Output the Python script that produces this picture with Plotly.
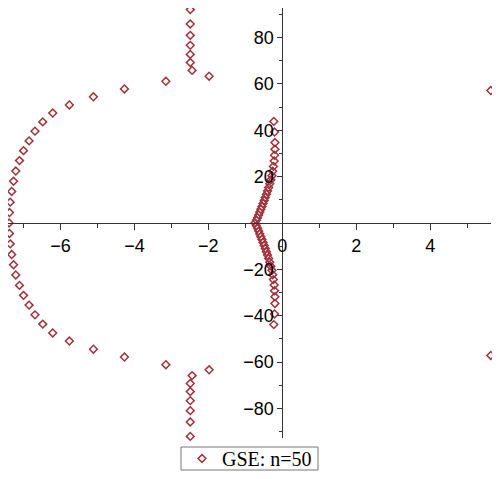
import plotly.graph_objects as go

# Left branch (upper half, then real point, then lower half)
re_left = [-2.49, -2.49, -2.49, -2.49, -2.49, -2.49, -2.44, -1.98, -3.15, -4.27, -5.11, -5.76,
           -6.21, -6.48, -6.69, -6.85, -7.00, -7.11, -7.21, -7.27, -7.32, -7.36, -7.38,
           -7.39,
           -7.38, -7.36, -7.32, -7.27, -7.21, -7.11, -7.00, -6.85, -6.69, -6.48, -6.21,
           -5.76, -5.11, -4.27, -3.15, -1.98, -2.44, -2.49, -2.49, -2.49, -2.49, -2.49, -2.49]
im_left = [92.0, 85.8, 80.9, 76.6, 72.7, 69.2, 65.8, 63.3, 61.1, 57.8, 54.4, 50.9,
           47.4, 43.6, 39.6, 35.4, 31.2, 26.9, 22.4, 18.0, 13.6, 9.0, 4.5,
           0.0,
           -4.5, -9.0, -13.6, -18.0, -22.4, -26.9, -31.2, -35.4, -39.6, -43.6, -47.4,
           -50.9, -54.4, -57.8, -61.1, -63.3, -65.8, -69.2, -72.7, -76.6, -80.9, -85.8, -92.0]

# Cluster near the origin
re_mid = [-0.23, -0.21, -0.20, -0.20, -0.21, -0.22, -0.24, -0.26, -0.28, -0.31, -0.34, -0.37,
          -0.40, -0.43, -0.46, -0.49, -0.52, -0.55, -0.58, -0.61, -0.64, -0.67, -0.70,
          -0.74,
          -0.70, -0.67, -0.64, -0.61, -0.58, -0.55, -0.52, -0.49, -0.46, -0.43, -0.40,
          -0.37, -0.34, -0.31, -0.28, -0.26, -0.24, -0.22, -0.21, -0.20, -0.20, -0.21, -0.23]
im_mid = [43.8, 39.2, 34.7, 31.8, 29.2, 26.7, 24.4, 22.3, 20.4, 18.6, 16.9, 15.3,
          13.8, 12.4, 11.0, 9.7, 8.4, 7.1, 5.9, 4.7, 3.5, 2.3, 1.2,
          0.0,
          -1.2, -2.3, -3.5, -4.7, -5.9, -7.1, -8.4, -9.7, -11.0, -12.4, -13.8,
          -15.3, -16.9, -18.6, -20.4, -22.3, -24.4, -26.7, -29.2, -31.8, -34.7, -39.2, -43.8]

# Right pair
re_right = [5.64, 5.64]
im_right = [57.1, -57.1]

x_ticks = [-6, -4, -2, 0, 2, 4]
x_labels = ["\u22126", "\u22124", "\u22122", "0", "2", "4"]
y_ticks = [-80, -60, -40, -20, 20, 40, 60, 80]
y_labels = ["\u221280", "\u221260", "\u221240", "\u221220", "20", "40", "60", "80"]

xs = re_left + re_mid + re_right
ys = im_left + im_mid + im_right

XMIN, XMAX = -7.42, 5.645
YMIN, YMAX = -92.7, 92.7

FIG_W, FIG_H = 492, 471  # page has an 8px body margin
M_L, M_R, M_T, M_B = 0, 9, 0, 41
PW, PH = FIG_W - M_L - M_R, FIG_H - M_T - M_B

# legend frame (figure pixel coords)
LBOX = (173, 439, 310, 462)

col = "#a0323c"
fig = go.Figure()
fig.add_trace(go.Scatter(
    x=xs, y=ys, mode="markers", name="GSE: n=50",
    marker=dict(symbol="diamond-open", size=6, color=col, line=dict(width=1.5, color=col)),
    cliponaxis=False,
))

axis_font = dict(family="Liberation Sans, Arial, sans-serif", size=18, color="black")
fig.update_layout(
    width=FIG_W, height=FIG_H,
    margin=dict(l=M_L, r=M_R, t=M_T, b=M_B, autoexpand=False),
    paper_bgcolor="white", plot_bgcolor="white",
    showlegend=True,
    legend=dict(
        orientation="h",
        xref="container", yref="container",
        x=241.5 / FIG_W, xanchor="center", y=1 - 431 / FIG_H, yanchor="top",
        borderwidth=0, bgcolor="rgba(0,0,0,0)",
        itemwidth=30,
        font=dict(family="Liberation Serif, Times New Roman, serif", size=20, color="black"),
    ),
    shapes=[dict(
        type="rect", xref="paper", yref="paper", layer="below",
        x0=(LBOX[0] - M_L) / PW, x1=(LBOX[2] - M_L) / PW,
        y0=(M_T + PH - LBOX[3]) / PH, y1=(M_T + PH - LBOX[1]) / PH,
        line=dict(color="#777777", width=1), fillcolor="white",
    )],
    xaxis=dict(
        range=[XMIN, XMAX], anchor="free", position=(0 - YMIN) / (YMAX - YMIN),
        automargin=False,
        showgrid=False, zeroline=False, showline=True, linecolor="#333333", linewidth=1,
        tickmode="array", tickvals=x_ticks, ticktext=x_labels,
        ticks="outside", ticklen=6, tickcolor="#333333", tickfont=axis_font,
        minor=dict(dtick=1, tick0=0, ticks="outside", ticklen=4, tickcolor="#333333"),
    ),
    yaxis=dict(
        range=[YMIN, YMAX], anchor="free", position=(0 - XMIN) / (XMAX - XMIN),
        automargin=False,
        showgrid=False, zeroline=False, showline=True, linecolor="#333333", linewidth=1,
        tickmode="array", tickvals=y_ticks, ticktext=y_labels,
        ticks="outside", ticklen=5, tickcolor="#333333", tickfont=axis_font,
        minor=dict(dtick=10, tick0=0, ticks="outside", ticklen=3, tickcolor="#333333"),
    ),
)

fig.write_html("out.html")
